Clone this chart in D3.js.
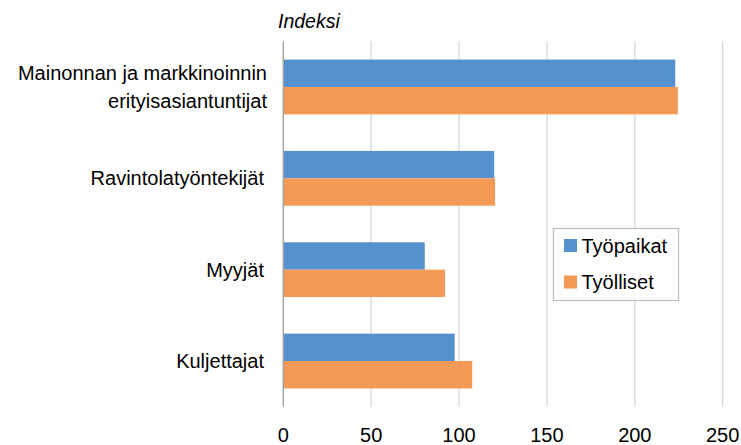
<!DOCTYPE html>
<html>
<head>
<meta charset="utf-8">
<script src="https://cdn.jsdelivr.net/npm/d3@7"></script>
<style>
  body { margin: 0; background: #fff; }
  text { font-family: "Liberation Sans", Arial, sans-serif; fill: #000; }
</style>
</head>
<body>
<svg id="chart" width="741" height="445"></svg>
<script>
// categories top to bottom
var categories = [
  ["Mainonnan ja markkinoinnin", "erityisasiantuntijat"],
  ["Ravintolatyöntekijät"],
  ["Myyjät"],
  ["Kuljettajat"]
];
var series_names = ["Työpaikat", "Työlliset"];
var tyopaikat = [223, 120, 80.5, 97.5];
var tyolliset = [224.5, 120.5, 92, 107.5];
var x_ticks = [0, 50, 100, 150, 200, 250];
var colours = ["#5590cf", "#f49a57"];

var svg = d3.select("#chart");
var plot_left = 283.3, plot_right = 722.7, plot_top = 41.3, plot_bottom = 406.7;

var x = d3.scaleLinear().domain([0, 250]).range([plot_left, plot_right]);
var y = d3.scaleBand().domain(d3.range(categories.length)).range([plot_top, plot_bottom]).paddingInner(0.4).paddingOuter(0.2);
var y_inner = d3.scaleBand().domain([0, 1]).range([0, y.bandwidth()]);

// gridlines
svg.append("g")
    .selectAll("line")
    .data(x_ticks.slice(1))
    .enter()
    .append("line")
    .attr("x1", function(d) { return x(d); })
    .attr("x2", function(d) { return x(d); })
    .attr("y1", plot_top)
    .attr("y2", plot_bottom)
    .attr("stroke", "#d9d9d9")
    .attr("stroke-width", 1.3);

// bars
var groups = svg.append("g")
    .selectAll("g")
    .data(categories.map(function(c, i) { return [tyopaikat[i], tyolliset[i]]; }))
    .enter()
    .append("g")
    .attr("transform", function(d, i) { return "translate(0," + y(i) + ")"; });

groups.selectAll("rect")
    .data(function(d) { return d; })
    .enter()
    .append("rect")
    .attr("x", x(0))
    .attr("y", function(d, j) { return y_inner(j); })
    .attr("width", function(d) { return x(d) - x(0); })
    .attr("height", y_inner.bandwidth())
    .attr("fill", function(d, j) { return colours[j]; });

// zero axis line
svg.append("line")
    .attr("x1", x(0)).attr("x2", x(0))
    .attr("y1", plot_top).attr("y2", plot_bottom)
    .attr("stroke", "#a6a6a6")
    .attr("stroke-width", 1.5);

// x tick labels
svg.append("g")
    .selectAll("text")
    .data(x_ticks)
    .enter()
    .append("text")
    .attr("x", function(d) { return x(d); })
    .attr("y", 442)
    .attr("text-anchor", "middle")
    .style("font-size", "20px")
    .text(function(d) { return d; });

// category labels
var labels = svg.append("g")
    .selectAll("text")
    .data(categories)
    .enter()
    .append("text")
    .attr("text-anchor", "end")
    .style("font-size", "20px")
    .attr("transform", function(d, i) {
        var lx = d.length > 1 ? 267 : 264;
        return "translate(" + lx + "," + (y(i) + y.bandwidth() / 2) + ")";
    });

labels.selectAll("tspan")
    .data(function(d) { return d; })
    .enter()
    .append("tspan")
    .attr("x", 0)
    .attr("y", function(d, j, arr) { return (j - (arr.length - 1) / 2) * 28 + 7; })
    .text(function(d) { return d; });

// axis title
svg.append("text")
    .attr("x", 278)
    .attr("y", 28)
    .style("font-size", "19.5px")
    .style("font-style", "italic")
    .text("Indeksi");

// legend
var legend = svg.append("g").attr("transform", "translate(553.5,228.5)");
legend.append("rect")
    .attr("width", 125)
    .attr("height", 72)
    .attr("fill", "#fff")
    .attr("stroke", "#bfbfbf")
    .attr("stroke-width", 1.3);

var items = legend.selectAll("g.item")
    .data(series_names)
    .enter()
    .append("g")
    .attr("class", "item")
    .attr("transform", function(d, i) { return "translate(0," + (17 + i * 36.5) + ")"; });

items.append("rect")
    .attr("x", 10.5)
    .attr("y", -6.5)
    .attr("width", 13)
    .attr("height", 13)
    .attr("fill", function(d, i) { return colours[i]; });

items.append("text")
    .attr("x", 28)
    .attr("y", 7)
    .style("font-size", "20px")
    .text(function(d) { return d; });
</script>
</body>
</html>
